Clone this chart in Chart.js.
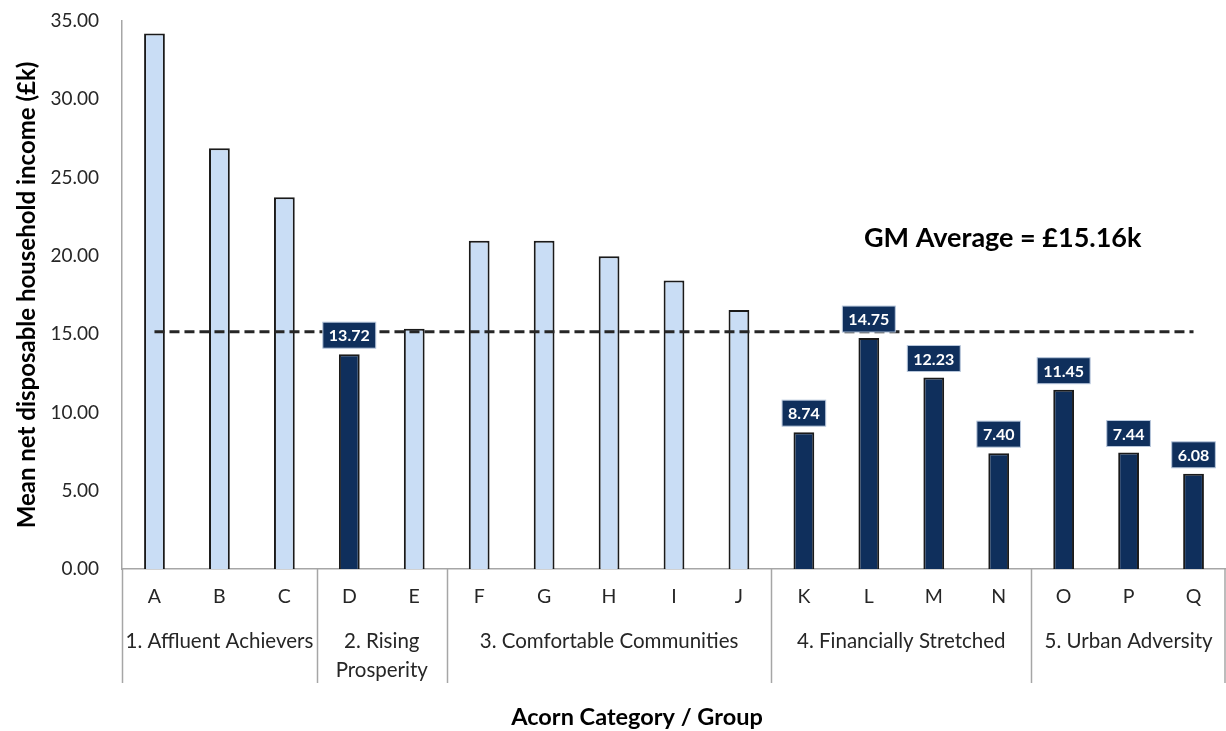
<!DOCTYPE html>
<html>
<head>
<meta charset="utf-8">
<script src="https://cdn.jsdelivr.net/npm/chart.js@4.4.1/dist/chart.umd.min.js"></script>
<style>
  html, body { margin: 0; background: #fff; }
  #wrap { width: 1226px; height: 731px; }
</style>
</head>
<body>
<div id="wrap"><canvas id="incomeChart"></canvas></div>
<script>
const groups = ['A', 'B', 'C', 'D', 'E', 'F', 'G', 'H', 'I', 'J', 'K', 'L', 'M', 'N', 'O', 'P', 'Q'];
const incomes = [34.2, 26.87, 23.74, 13.72, 15.35, 20.97, 20.97, 19.97, 18.42, 16.54, 8.74, 14.75, 12.23, 7.40, 11.45, 7.44, 6.08];
const categories = [['1. Affluent Achievers'], ['2. Rising', 'Prosperity'], ['3. Comfortable Communities'], ['4. Financially Stretched'], ['5. Urban Adversity']];
const categorySizes = [3, 2, 5, 4, 3];
const labelledGroups = ['D', 'K', 'L', 'M', 'N', 'O', 'P', 'Q'];
const gmAverage = 15.16;

const FONT = 'Lato, "Open Sans", sans-serif';
const light = '#c9ddf5';
const dark = '#0f2f5c';

const barColors = groups.map(g => labelledGroups.includes(g) ? dark : light);

// category separators, category names, axis title, average note and value boxes
const annotations = {
  id: 'annotations',
  afterDatasetsDraw(chart) {
    const { ctx, chartArea, scales: { x, y } } = chart;
    const step = x.getPixelForValue(1) - x.getPixelForValue(0);
    ctx.save();

    // separators between categories
    ctx.strokeStyle = '#a6a6a6';
    ctx.lineWidth = 1.5;
    let idx = 0;
    const edges = [x.getPixelForValue(0) - step / 2];
    categorySizes.forEach(n => { idx += n; edges.push(x.getPixelForValue(idx - 1) + step / 2); });
    edges.forEach(px => {
      const xx = Math.min(Math.round(px) + 0.5, chart.width - 1);
      ctx.beginPath();
      ctx.moveTo(xx, chartArea.bottom);
      ctx.lineTo(xx, chartArea.bottom + 114);
      ctx.stroke();
    });

    // category names
    ctx.fillStyle = '#262626';
    ctx.font = '20.5px ' + FONT;
    ctx.textAlign = 'center';
    ctx.textBaseline = 'middle';
    categories.forEach((lines, i) => {
      const cx = (edges[i] + edges[i + 1]) / 2;
      lines.forEach((t, j) => ctx.fillText(t, cx, chartArea.bottom + 72 + j * 29));
    });

    // x axis title
    ctx.fillStyle = '#000';
    ctx.font = 'bold 23.5px ' + FONT;
    ctx.fillText('Acorn Category / Group', 637, 717);

    // average note
    ctx.font = 'bold 27px ' + FONT;
    ctx.fillText('GM Average = £' + gmAverage.toFixed(2) + 'k', x.getPixelForValue(13) + 4, y.getPixelForValue(21.15));

    // value boxes on highlighted bars
    const meta = chart.getDatasetMeta(1);
    ctx.font = 'bold 16px ' + FONT;
    groups.forEach((g, i) => {
      if (!labelledGroups.includes(g)) return;
      const bar = meta.data[i];
      const text = incomes[i].toFixed(2);
      const w = ctx.measureText(text).width + 12;
      const h = 26;
      const top = bar.y - 6 - h;
      ctx.fillStyle = dark;
      ctx.fillRect(bar.x - w / 2, top, w, h);
      ctx.strokeStyle = '#b8c7dc';
      ctx.lineWidth = 1;
      ctx.strokeRect(bar.x - w / 2, top, w, h);
      ctx.fillStyle = '#fff';
      ctx.fillText(text, bar.x, top + h / 2 + 1);
    });
    ctx.restore();
  }
};

new Chart(document.getElementById('incomeChart'), {
  data: {
    labels: groups,
    datasets: [
      {
        type: 'line',
        data: groups.map(() => gmAverage),
        borderColor: '#262626',
        borderWidth: 3,
        borderDash: [10, 5],
        pointRadius: 0,
        fill: false,
        order: 0
      },
      {
        type: 'bar',
        data: incomes,
        backgroundColor: barColors,
        borderColor: '#1a1a1a',
        borderWidth: 2,
        borderSkipped: 'bottom',
        barPercentage: 0.32,
        categoryPercentage: 1,
        order: 1
      }
    ]
  },
  options: {
    responsive: true,
    maintainAspectRatio: false,
    animation: false,
    layout: { padding: { top: 21, right: 0, left: 0, bottom: 0 } },
    plugins: {
      legend: { display: false },
      tooltip: { enabled: false }
    },
    scales: {
      x: {
        grid: { display: false, drawTicks: false },
        border: { color: '#a6a6a6', width: 1.5 },
        ticks: { color: '#262626', padding: 16, font: { family: FONT, size: 19.5 } },
        afterFit: s => { s.height = 162; }
      },
      y: {
        min: 0,
        max: 35,
        grid: { display: false, drawTicks: false },
        border: { color: '#a6a6a6', width: 1.5 },
        ticks: {
          stepSize: 5,
          color: '#262626',
          padding: 23,
          font: { family: FONT, size: 19 },
          callback: v => v.toFixed(2)
        },
        title: {
          display: true,
          text: 'Mean net disposable household income (£k)',
          color: '#000',
          font: { family: FONT, size: 24, weight: 'bold' },
          padding: { top: 13, bottom: 0 }
        },
        afterFit: s => {
          s.width = 122;
          // tick padding would otherwise push the plot top down
          s.paddingTop = 11;
          s.paddingBottom = 11;
        }
      }
    }
  },
  plugins: [annotations]
});
</script>
</body>
</html>
